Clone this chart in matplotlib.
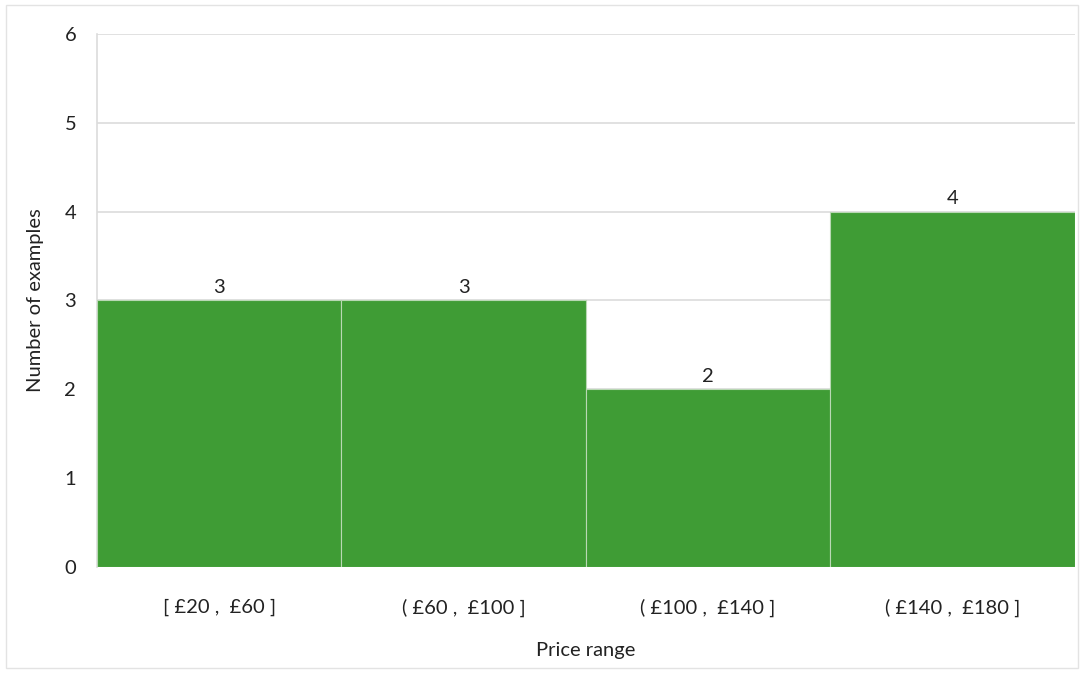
import matplotlib
matplotlib.use("Agg")
import matplotlib.pyplot as plt
import matplotlib.patches as patches

# data
ranges = ["[ £20 ,  £60 ]", "( £60 ,  £100 ]", "( £100 ,  £140 ]", "( £140 ,  £180 ]"]
counts = [3, 3, 2, 4]
y_ticks = [0, 1, 2, 3, 4, 5, 6]

plt.rcParams["font.family"] = ["Lato", "DejaVu Sans"]

fig = plt.figure(figsize=(10.84, 6.73), dpi=100)
ax = fig.add_axes([0.0895, 0.1575, 0.902, 0.792])

# thin outer frame like the source chart
fig.patches.append(patches.Rectangle((0.0055, 0.007), 0.989, 0.985, transform=fig.transFigure,
                                     fill=False, edgecolor="#e3e3e3", linewidth=1))

x = list(range(len(counts)))
bars = ax.bar(x, counts, width=1.0, color="#3f9c35", edgecolor="#b9d8b4", linewidth=0.8, zorder=3)
ax.bar_label(bars, padding=3, fontsize=14.5, color="#222222")

ax.set_xlim(-0.5, len(counts) - 0.5)
ax.set_ylim(0, 6)
ax.set_yticks(y_ticks)
ax.set_xticks(x)
ax.set_xticklabels(ranges)
ax.tick_params(axis="both", length=0, labelsize=14.5, colors="#222222")
ax.tick_params(axis="y", pad=15)
ax.tick_params(axis="x", pad=23)

ax.grid(axis="y", color="#dcdcdc", linewidth=1.2, zorder=0)
for s in ["top", "right", "bottom"]:
    ax.spines[s].set_visible(False)
ax.spines["left"].set_color("#dcdcdc")
ax.spines["left"].set_linewidth(1.2)

ax.set_xlabel("Price range", fontsize=14.5, color="#222222", labelpad=18)
ax.set_ylabel("Number of examples", fontsize=14.5, color="#222222", labelpad=15)

fig.savefig("out.png", dpi=100)
